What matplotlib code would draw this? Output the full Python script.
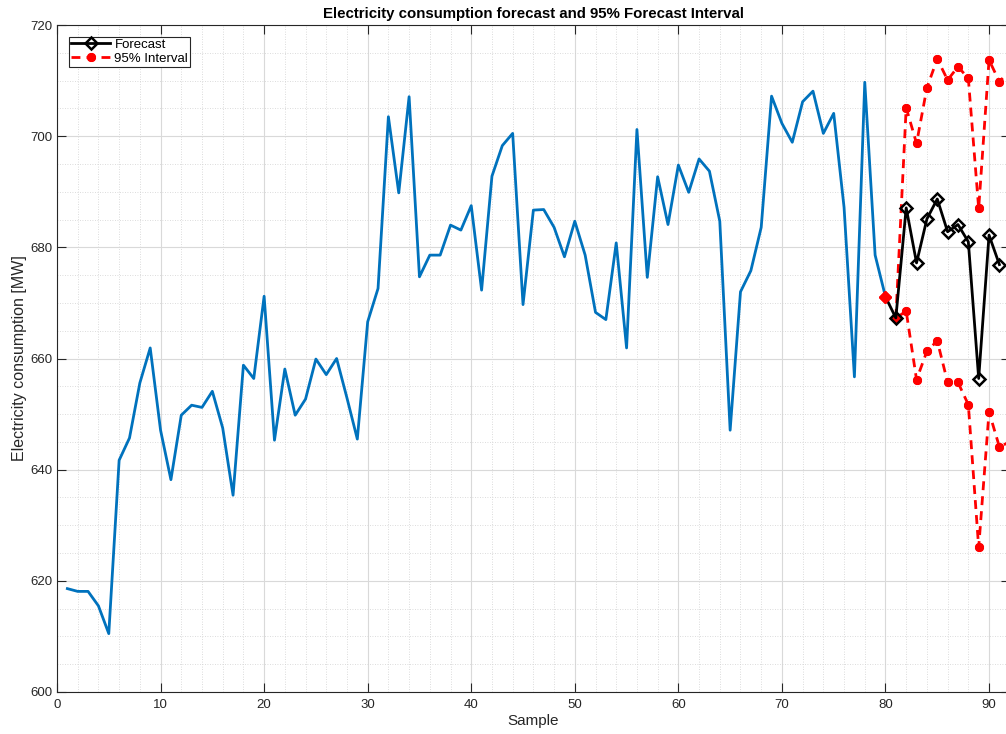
import matplotlib
matplotlib.use("Agg")
import matplotlib.pyplot as plt
from matplotlib.ticker import MultipleLocator
import numpy as np

plt.rcParams['font.family'] = ['Liberation Sans', 'DejaVu Sans']

# Observed consumption, samples 1..80
samples = list(range(1, 81))
consumption = [
    618.6, 618.1, 618.1, 615.5, 610.5, 641.7, 645.7, 655.6, 661.9, 647.1,
    638.2, 649.8, 651.6, 651.2, 654.1, 647.5, 635.4, 658.8, 656.4, 671.2,
    645.3, 658.1, 649.8, 652.7, 659.9, 657.1, 660.0, 652.9, 645.5, 666.6,
    672.6, 703.5, 689.8, 707.1, 674.7, 678.6, 678.6, 684.0, 683.1, 687.5,
    672.3, 692.8, 698.3, 700.5, 669.7, 686.7, 686.8, 683.6, 678.3, 684.7,
    678.6, 668.3, 667.0, 680.8, 661.9, 701.2, 674.6, 692.7, 684.1, 694.8,
    689.9, 695.9, 693.7, 684.7, 647.1, 672.0, 675.8, 683.6, 707.2, 702.3,
    698.9, 706.2, 708.1, 700.5, 704.1, 687.2, 656.7, 709.7, 678.6, 671.1,
]

# Forecast, samples 80..91
fc_samples = list(range(80, 92))
forecast = [671.1, 667.3, 687.1, 677.2, 685.1, 688.7, 682.8, 684.1, 681.0, 656.4, 682.2, 676.9]

# 95% interval, samples 81..92
ci_samples = list(range(81, 93))
upper = [667.3, 705.1, 698.7, 708.7, 713.9, 710.1, 712.5, 710.4, 687.0, 713.7, 709.8, 711.8]
lower = [667.3, 668.5, 656.2, 661.3, 663.2, 655.7, 655.7, 651.7, 626.0, 650.4, 644.1, 645.0]

title = "Electricity consumption forecast and 95% Forecast Interval"
xlabel = "Sample"
ylabel = "Electricity consumption [MW]"

W, H = 1006, 734
fig = plt.figure(figsize=(W / 100, H / 100), dpi=100)
x0, x1 = 57, 57 + 92 * 10.356
y_top, y_bot = 25, 692
ax = fig.add_axes([x0 / W, (H - y_bot) / H, (x1 - x0) / W, (y_bot - y_top) / H])

axcol = '#262626'
ax.plot(samples, consumption, color='#0072BD', lw=2.0, zorder=3)

# red start markers
ax.plot(fc_samples[:2], forecast[:2], ls='none', marker='D', ms=6,
        mfc='red', mec='red', zorder=4)

ax.plot(fc_samples, forecast, color='black', lw=2.0, marker='D', ms=6,
        mfc='none', mec='black', mew=1.8, markevery=list(range(1, len(forecast))),
        zorder=5, label='Forecast')
ax.plot(fc_samples[:1], forecast[:1], ls='none', marker='D', ms=6,
        mfc='red', mec='red', zorder=6)

ast = (8, 2, 0)
dash = (0, (3.2, 2.2))
ax.plot(ci_samples, upper, color='red', lw=2.0, ls=dash, marker=ast, ms=6.5,
        mew=2.0, zorder=4, label='95% Interval')
ax.plot(ci_samples, lower, color='red', lw=2.0, ls=dash, marker=ast, ms=6.5,
        mew=2.0, zorder=4)

ax.set_xlim(0, 92)
ax.set_ylim(600, 720)
ax.xaxis.set_major_locator(MultipleLocator(10))
ax.xaxis.set_minor_locator(MultipleLocator(2))
ax.yaxis.set_major_locator(MultipleLocator(20))
ax.yaxis.set_minor_locator(MultipleLocator(5))

ax.grid(which='major', color='#d9d9d9', lw=0.8, ls='-', zorder=0)
ax.grid(which='minor', color='#d0d0d0', lw=0.6, ls=(0, (1, 2)), zorder=0)
ax.set_axisbelow(True)

ax.tick_params(which='major', direction='in', length=6.8, width=0.8,
               top=True, right=True, colors=axcol, labelsize=9.5, labelcolor=axcol)
ax.tick_params(which='minor', length=0, top=True, right=True)
ax.tick_params(axis='x', pad=5)
ax.tick_params(axis='y', pad=3)
for s in ax.spines.values():
    s.set_color(axcol)
    s.set_linewidth(0.8)

ax.set_title(title, fontsize=10.8, fontweight='bold', color='black', pad=5)
ax.set_xlabel(xlabel, fontsize=11, color=axcol, labelpad=2)
ax.set_ylabel(ylabel, fontsize=11.5, color=axcol, labelpad=3)

leg = ax.legend(loc='upper left', fontsize=9.5, frameon=True, fancybox=False,
                edgecolor=axcol, framealpha=1, borderpad=0.15, handlelength=3.0,
                handletextpad=0.3, labelspacing=0.12, borderaxespad=0.9)
leg.get_frame().set_linewidth(0.8)

fig.savefig('out.png', dpi=100)
